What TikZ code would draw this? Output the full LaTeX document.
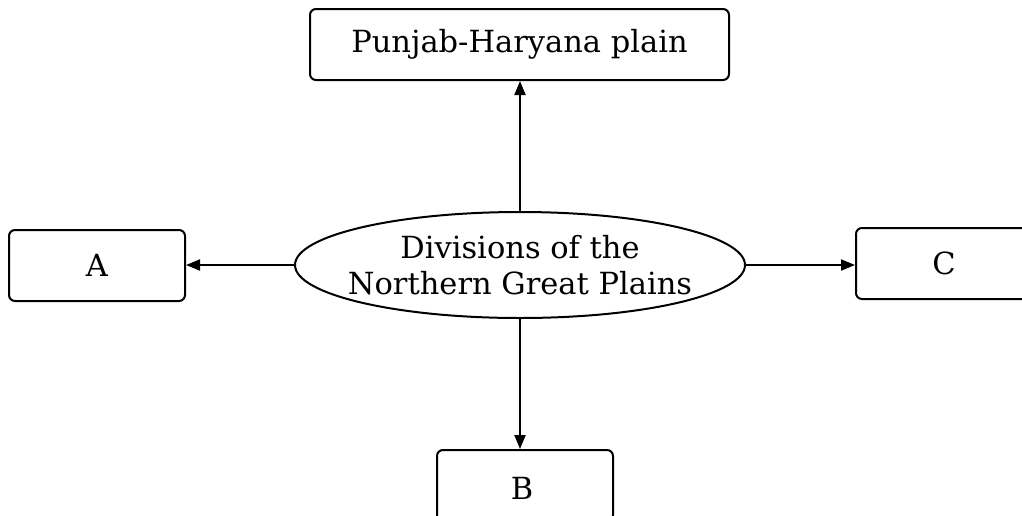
\documentclass[tikz,border=0pt]{standalone}
\usepackage{fontspec}
\setmainfont{DejaVu Serif}
\usetikzlibrary{shapes.geometric,arrows.meta}
\begin{document}
\begin{tikzpicture}[x=1pt,y=-1pt,
  box/.style={draw,line width=2pt,rounded corners=6pt,inner sep=0pt,font=\fontsize{30.5}{36}\selectfont},
  oval/.style={draw,ellipse,line width=2pt,inner sep=0pt,minimum width=450pt,minimum height=106pt},
  label text/.style={inner sep=0pt,align=center,font=\fontsize{30.5}{36}\selectfont},
  link/.style={line width=2pt,-{Triangle[length=14pt,width=11pt]}}]
\useasboundingbox (0,0) rectangle (1022,515);
\clip (0,0) rectangle (1022,515);
\node[oval] (center) at (520,265) {};
\node[label text] (centertext) at (center) {Divisions of the\\Northern Great Plains};
\node[box,minimum width=419pt,minimum height=71pt] (top) at (519.5,44.5) {Punjab-Haryana plain};
\node[box,minimum width=176pt,minimum height=71pt] (a) at (97,265.5) {A};
\node[box,minimum width=176pt,minimum height=71pt] (c) at (944,263.5) {C};
\node[box,minimum width=176pt,minimum height=71pt,anchor=north] (bb) at (525,449) {};
\node[label text] (b) at (522,488) {B};
\draw[link] (center.north) -- (center.north |- top.south);
\draw[link] (center.west) -- (center.west -| a.east);
\draw[link] (center.east) -- (center.east -| c.west);
\draw[link] (center.south) -- (center.south |- bb.north);
\end{tikzpicture}
\end{document}
